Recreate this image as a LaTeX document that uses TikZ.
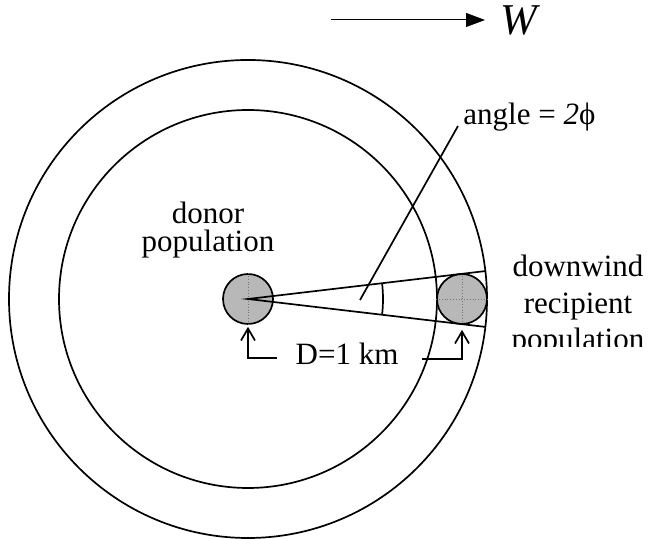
\documentclass[tikz,border=0pt]{standalone}
\usepackage{fontspec}
\setmainfont{Liberation Serif}
\usetikzlibrary{positioning,arrows.meta,calc}

\begin{document}
\begin{tikzpicture}[
  x=0.5pt, y=0.5pt,
  font=\fontsize{15.5}{14}\selectfont,
  ring/.style={draw, line width=0.85pt},
  popn/.style={circle, draw, line width=0.85pt, fill=black!28,
               minimum size=25pt, inner sep=0pt},
  ray/.style={line width=0.85pt},
  arr/.style={-{Straight Barb[length=6pt, width=7pt]}, line width=0.85pt},
  txt/.style={inner sep=0pt, align=center}
]
  \useasboundingbox (0,0) rectangle (648,539);

  % Field boundaries
  \coordinate (centre) at (248,240);
  \draw[ring] (centre) circle[radius=119.5pt];
  \draw[ring] (centre) circle[radius=94.5pt];

  % Donor and recipient populations
  \node[popn] (donor) at (centre) {};
  \node[popn] (recip) at (462,240) {};
  \draw[black!55, densely dotted, line width=0.4pt] (donor.north) -- (donor.south);
  \draw[black!55, densely dotted, line width=0.4pt] (recip.north) -- (recip.south);
  \draw[black!55, densely dotted, line width=0.4pt] (recip.west) -- (recip.east);

  % Wedge of angle 2 phi
  \draw[ray] ($(centre)+(6.71:239)$) -- (centre) -- ($(centre)+(-6.71:239)$);
  \draw[ray] ($(centre)+(-6.71:135)$) arc[start angle=-6.71, end angle=6.71, radius=67.5pt];

  % Angle label
  \node[txt, anchor=base west] (anglbl) at (463,414) {angle = \textit{2}ϕ};
  \coordinate (angfoot) at (360,239);
  \draw[ray] (angfoot) -- ($(anglbl.base west)+(-5,-1)$);

  % Donor label and distance
  \node[txt, anchor=base] (donorlbl) at (208,287.5) {donor\\population};
  \node[txt, anchor=base] (dist) at (347,174) {D=1 km};
  \coordinate (dl) at (277,181);
  \coordinate (dr) at (422,180);
  \draw[arr, shorten >=1pt] (dl) -| (donor.south);
  \draw[arr, shorten >=2.5pt] (dr) -| (recip.south);

  % Recipient label, cut off at the bottom
  \begin{scope}
    \clip (480,192) rectangle (648,330);
    \node[txt, anchor=base, font=\fontsize{15.5}{18.3}\selectfont] (reciplbl)
      at (578,189) {downwind\\recipient\\population};
  \end{scope}

  % Wind direction
  \coordinate (windtail) at (331,519);
  \node[anchor=west, inner xsep=7.5pt, inner ysep=0pt,
        font=\fontsize{22}{22}\selectfont\itshape] (wind) at (485,519) {W};
  \draw[-{Triangle[length=9.5pt, width=7pt]}, line width=0.5pt] (windtail) -- (wind.west);
\end{tikzpicture}
\end{document}
